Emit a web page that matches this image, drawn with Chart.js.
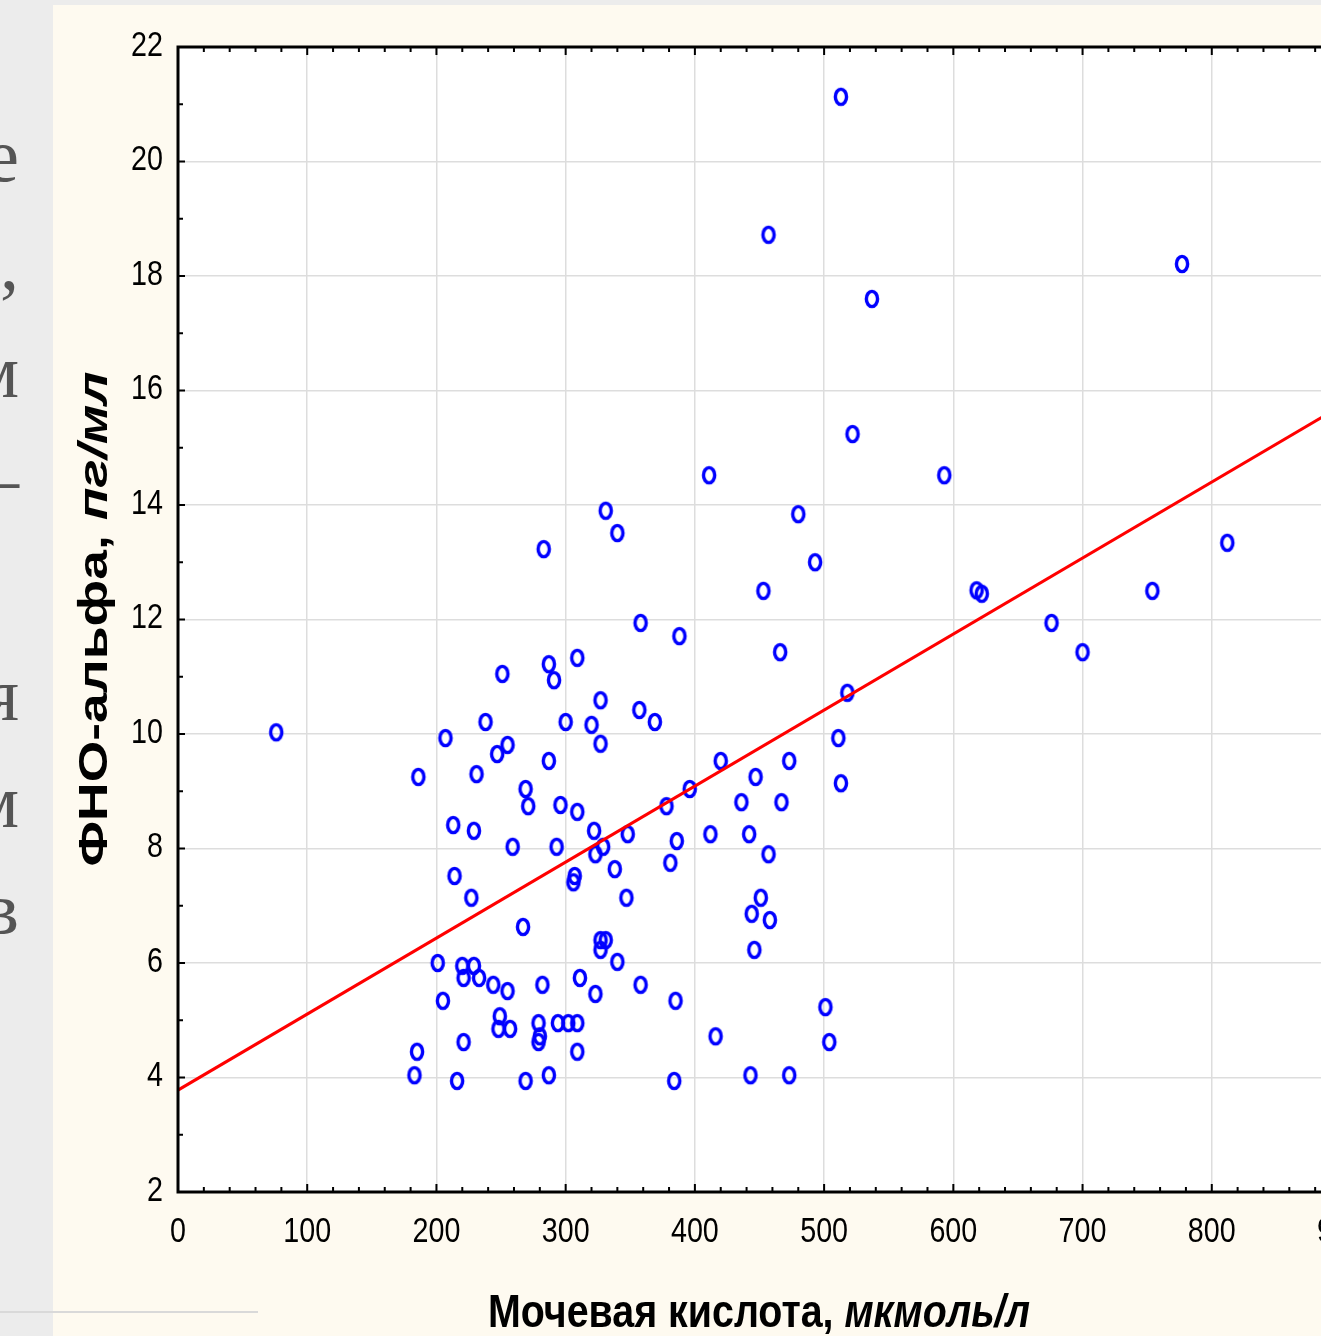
<!DOCTYPE html>
<html>
<head>
<meta charset="utf-8">
<script src="https://cdn.jsdelivr.net/npm/chart.js@4.4.1/dist/chart.umd.min.js"></script>
<style>
  html, body { margin: 0; padding: 0; overflow: hidden; background: #ececec; }
  #wrap { position: absolute; left: 0; top: 0; width: 1400px; height: 1336px; }
</style>
</head>
<body>
<div id="wrap"><canvas id="chart" width="1400" height="1336"></canvas></div>
<script>
// Мочевая кислота (x) и ФНО-альфа (y)
const uricAcid = [
  76, 186, 207, 213, 214, 229, 231, 238, 247, 251, 255, 259, 227, 201, 205, 220,
  229, 221, 233, 244, 255, 249, 248, 257, 221, 185, 183, 216, 269, 287, 267, 269,
  271, 283, 287, 291, 287, 293, 296, 300, 309, 309, 320, 327, 327, 322, 323, 329,
  307, 306, 331, 340, 338, 348, 347, 327, 331, 327, 340, 311, 282, 323, 294, 302,
  309, 279, 280, 279, 309, 358, 357, 358, 369, 388, 378, 396, 386, 381, 385, 384,
  411, 420, 412, 416, 436, 442, 447, 457, 451, 444, 458, 446, 443, 473, 453, 466,
  457, 467, 473, 480, 493, 513, 537, 522, 518, 511, 513, 501, 504, 593, 618, 622,
  676, 700, 754, 777, 812
];
const tnfAlpha = [
  10.03, 9.25, 9.93, 8.41, 7.52, 8.31, 9.30, 10.21, 9.65, 11.05, 9.81, 8.03, 7.14, 6.00, 5.34, 5.95,
  5.95, 5.74, 5.74, 5.62, 5.51, 5.07, 4.85, 4.85, 4.62, 4.45, 4.04, 3.94, 3.94, 4.04, 6.63, 9.04,
  8.74, 13.23, 11.22, 10.94, 9.53, 8.03, 8.76, 10.21, 11.33, 8.64, 10.16, 10.59, 9.83, 8.31, 7.90, 8.03,
  7.52, 7.41, 13.90, 13.51, 7.64, 8.25, 7.14, 6.40, 6.40, 6.23, 6.02, 5.74, 5.62, 5.46, 4.95, 4.95,
  4.95, 4.95, 4.72, 4.62, 4.45, 5.62, 10.42, 11.94, 10.21, 11.71, 8.74, 9.04, 8.13, 7.75, 5.34, 3.94,
  14.52, 9.53, 8.25, 4.72, 8.81, 8.25, 9.25, 7.90, 7.14, 6.86, 6.75, 6.23, 4.04, 4.04, 12.50, 11.43,
  18.72, 8.81, 9.53, 13.84, 13.00, 21.13, 17.60, 15.24, 10.72, 9.93, 9.14, 5.23, 4.62, 14.52, 12.51, 12.45,
  11.94, 11.43, 12.50, 18.21, 13.34
];
// regression line end points
const fitX = [0, 900];
const fitY = [3.78, 15.73];

const xTitle = [['Мочевая кислота, ', 'bold'], ['мкмоль/л', 'italic bold']];
const yTitle = [['ФНО-альфа, ', 'bold'], ['пг/мл', 'italic bold']];

// letters of the slide text cut off at the left edge
const sideLetters = ['е', ',', 'м', '–', 'я', 'м', 'в'];
const sideBaselines = [181, 289, 397, 504, 720, 827, 934];

// the whole picture is a bit stretched vertically, so text is drawn condensed
const squeeze = 0.82;

// the markers are slightly taller than wide
const ring = document.createElement('canvas');
ring.width = 24; ring.height = 28;
const rc = ring.getContext('2d');
rc.strokeStyle = '#0000ff';
rc.lineWidth = 3.4;
rc.beginPath();
rc.ellipse(12, 14, 5.6, 7.6, 0, 0, Math.PI * 2);
rc.stroke();

function drawTitle(c, parts, x, y, angle, size, length) {
  c.save();
  c.translate(x, y);
  c.rotate(angle);
  let total = 0;
  parts.forEach(p => { c.font = p[1] + ' ' + size + 'px "Liberation Sans"'; total += c.measureText(p[0]).width; });
  c.scale(length / total, 1);
  c.fillStyle = '#000';
  c.textAlign = 'left';
  c.textBaseline = 'alphabetic';
  let pos = -total / 2;
  parts.forEach(p => {
    c.font = p[1] + ' ' + size + 'px "Liberation Sans"';
    c.fillText(p[0], pos, 0);
    pos += c.measureText(p[0]).width;
  });
  c.restore();
}

function drawLabel(c, text, x, y, align) {
  c.save();
  c.translate(x, y);
  c.scale(squeeze, 1);
  c.textAlign = align;
  c.fillText(text, 0, 0);
  c.restore();
}

const pageBackdrop = {
  id: 'pageBackdrop',
  beforeDraw(chart) {
    const c = chart.ctx, a = chart.chartArea;
    c.save();
    c.fillStyle = '#ececec';
    c.fillRect(0, 0, chart.width, chart.height);
    c.fillStyle = '#fefaf0';
    c.fillRect(53, 5, chart.width - 53, chart.height - 5);
    c.fillStyle = '#ffffff';
    c.fillRect(a.left, a.top, a.right - a.left, a.bottom - a.top);

    c.font = '76px "Liberation Serif"';
    c.fillStyle = '#555555';
    c.textAlign = 'right';
    c.textBaseline = 'alphabetic';
    sideLetters.forEach((t, i) => c.fillText(t, 19, sideBaselines[i]));

    c.strokeStyle = '#d9d9d9';
    c.lineWidth = 2;
    c.beginPath();
    c.moveTo(0, 1312);
    c.lineTo(258, 1312);
    c.stroke();
    c.restore();
  }
};

const frameTicks = {
  id: 'frameTicks',
  afterDraw(chart) {
    const c = chart.ctx, a = chart.chartArea;
    const xs = chart.scales.x, ys = chart.scales.y;
    c.save();
    c.strokeStyle = '#000';
    c.lineWidth = 2;
    c.beginPath();
    for (let v = xs.min; v <= xs.max; v += 20) {
      const px = xs.getPixelForValue(v);
      const len = v % 100 === 0 ? 8 : 5;
      c.moveTo(px, a.bottom); c.lineTo(px, a.bottom - len);
      c.moveTo(px, a.top); c.lineTo(px, a.top + len);
    }
    for (let v = ys.min; v <= ys.max; v += 1) {
      const py = ys.getPixelForValue(v);
      const len = v % 2 === 0 ? 7 : 5;
      c.moveTo(a.left, py); c.lineTo(a.left + len, py);
      c.moveTo(a.right, py); c.lineTo(a.right - len, py);
    }
    c.stroke();
    c.lineWidth = 3;
    c.strokeRect(a.left, a.top, a.right - a.left, a.bottom - a.top);

    // tick labels from the scales' own ticks
    c.font = '35px "Liberation Sans"';
    c.fillStyle = '#000';
    c.textBaseline = 'middle';
    xs.ticks.forEach(t => drawLabel(c, t.label, xs.getPixelForValue(t.value), a.bottom + 40, 'center'));
    ys.ticks.forEach(t => drawLabel(c, t.label, a.left - 15, ys.getPixelForValue(t.value) - 1, 'right'));
    c.restore();

    drawTitle(c, xTitle, 759, 1327, 0, 47, 542);
    drawTitle(c, yTitle, 107, 619, -Math.PI / 2, 40, 495);
  }
};

new Chart(document.getElementById('chart'), {
  type: 'scatter',
  data: {
    datasets: [
      {
        label: 'fit',
        data: fitX.map((x, i) => ({ x: x, y: fitY[i] })),
        showLine: true,
        borderColor: '#ff0000',
        borderWidth: 3,
        pointRadius: 0,
        fill: false
      },
      {
        label: 'patients',
        data: uricAcid.map((x, i) => ({ x: x, y: tnfAlpha[i] })),
        pointStyle: ring,
        pointRadius: 8,
        borderColor: '#0000ff',
        backgroundColor: 'transparent'
      }
    ]
  },
  options: {
    responsive: false,
    animation: false,
    layout: { padding: { left: 0, top: 47, right: 59, bottom: 0 } },
    plugins: { legend: { display: false }, tooltip: { enabled: false } },
    scales: {
      x: {
        type: 'linear',
        min: 0, max: 900,
        ticks: { stepSize: 100, display: false },
        grid: { color: '#dddddd', lineWidth: 1.5, drawTicks: false },
        border: { display: false },
        afterFit(s) { s.height = 144; }
      },
      y: {
        type: 'linear',
        min: 2, max: 22,
        ticks: { stepSize: 2, display: false },
        grid: { color: '#dddddd', lineWidth: 1.5, drawTicks: false },
        border: { display: false },
        afterFit(s) { s.width = 178; }
      }
    }
  },
  plugins: [pageBackdrop, frameTicks]
});
</script>
</body>
</html>
